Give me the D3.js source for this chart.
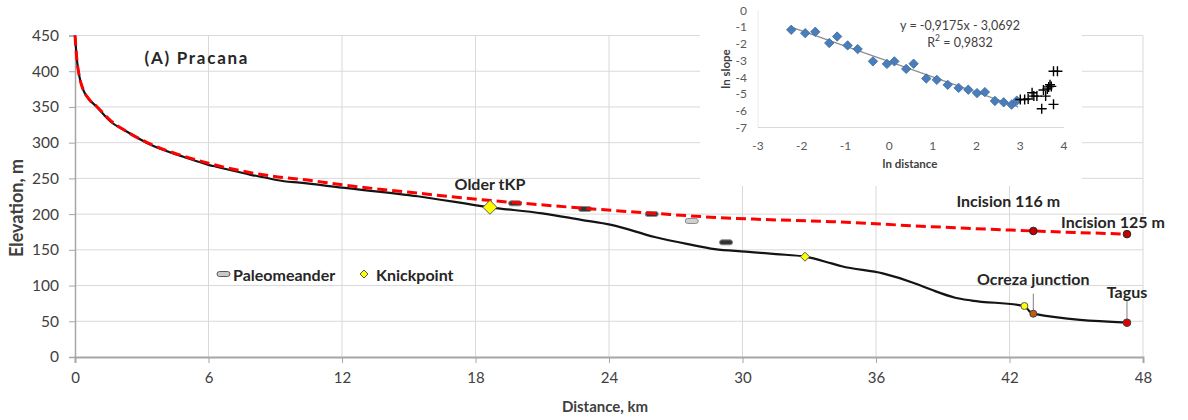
<!DOCTYPE html>
<html><head><meta charset="utf-8">
<script src="https://cdn.jsdelivr.net/npm/d3@7"></script>
<style>body{margin:0;background:#fff} svg{display:block}</style>
</head><body><svg id="c" width="1188" height="420"></svg>
<script>
// ---- main profile data ----
const profileKm   = [0,0.05,0.1,0.23,0.37,0.6,0.98,1.58,2.3,3.4,4.9,6.0,6.4,7.9,8.4,9.4,10.1,12.0,15.4,18.65,21.0,22.75,24.1,26.05,27.55,28.75,30.14,31.5,32.81,34.0,34.46,36.3,37.76,38.5,39.56,40.3,42.67,42.9,43.07,47.28];
const profileElev = [450,430,412,388,374,362,350,330,316,297,280,269,266,255,252,246,244,237,225,209.5,201,192,185,168,158,151,147.5,144,140.4,131,127,117,103,94,83,79,71.4,64,60.6,48];
const envelopeKm   = [0,0.05,0.1,0.23,0.37,0.6,1.0,1.6,2.3,3.4,4.9,6.4,7.9,9.4,10.1,12.0,15.5,18.7,20.0,22.75,26.05,29.0,30.5,34.0,38.5,43.07,47.28];
const envelopeElev = [450,428,412,388,374,362,350,331,316,298,281,268,258,251,249,241,229,219,215.5,208.5,201,195,193,189.4,182.4,176.4,172];
const paleoKm   = [19.78,22.92,25.92,27.72,29.26];
const paleoElev = [215.1,207.2,200.2,190.4,160.5];
const olderTKP  = [18.65,209.5];
const knickKm   = [32.81,42.67];
const knickElev = [140.4,71.4];
const ocreza    = [43.07,60.6];
const tagus     = [47.28,48];
const incisionKm   = [43.07,47.28];
const incisionElev = [176.4,172];
const incisionLabels = ["Incision 116 m","Incision 125 m"];
const xTicks = [0,6,12,18,24,30,36,42,48];
const yTicks = [0,50,100,150,200,250,300,350,400,450];
// ---- inset data ----
const lnDist  = [-2.24,-1.92,-1.69,-1.37,-1.19,-0.95,-0.72,-0.37,-0.05,0.12,0.39,0.56,0.85,1.09,1.34,1.59,1.81,2.01,2.19,2.42,2.62,2.80,2.92];
const lnSlope = [-1.18,-1.38,-1.30,-1.97,-1.58,-2.11,-2.33,-3.06,-3.21,-3.06,-3.51,-3.20,-4.08,-4.16,-4.46,-4.64,-4.75,-4.95,-4.89,-5.42,-5.50,-5.64,-5.40];
const lnDistOut  = [3.00,3.10,3.18,3.27,3.31,3.38,3.49,3.53,3.58,3.62,3.65,3.68,3.71,3.76,3.76,3.85];
const lnSlopeOut = [-5.33,-5.33,-5.30,-4.93,-5.13,-5.13,-5.88,-4.77,-5.13,-4.70,-4.58,-4.45,-4.55,-5.62,-3.65,-3.65];
const insetXTicks = [-3,-2,-1,0,1,2,3,4];
const insetYTicks = [0,-1,-2,-3,-4,-5,-6,-7];
const trendSlope = -0.9175, trendIntercept = -3.0692, trendR2 = "0,9832";
const trendRange = [-2.24,2.95];

const svg = d3.select("#c");
const F = "Lato, 'Open Sans', sans-serif";
const x = d3.scaleLinear().domain([0,48]).range([75,1143]);
const y = d3.scaleLinear().domain([0,450]).range([357,35.5]);

// grid
svg.append("g").selectAll("line").data(yTicks.filter(d=>d>0)).join("line")
  .attr("x1",x(0)).attr("x2",x(48)).attr("y1",d=>y(d)).attr("y2",d=>y(d))
  .attr("stroke","#d9d9d9").attr("stroke-width",1);
svg.append("g").selectAll("line").data(xTicks.filter(d=>d>0)).join("line")
  .attr("x1",d=>x(d)).attr("x2",d=>x(d)).attr("y1",y(0)).attr("y2",y(450))
  .attr("stroke","#d9d9d9").attr("stroke-width",1);

// axes
const gx = svg.append("g").attr("transform",`translate(0,${y(0)})`)
  .call(d3.axisBottom(x).tickValues(xTicks).tickSize(6).tickPadding(9));
gx.select(".domain").attr("stroke","#a6a6a6").attr("stroke-width",2);
gx.selectAll(".tick line").attr("stroke","#a6a6a6");
gx.selectAll("text").attr("font-family",F).attr("font-size",15).attr("fill","#404040");
const gy = svg.append("g").attr("transform",`translate(${x(0)},0)`)
  .call(d3.axisLeft(y).tickValues(yTicks).tickSize(6).tickPadding(10));
gy.select(".domain").attr("stroke","#a6a6a6").attr("stroke-width",1.5);
gy.selectAll(".tick line").attr("stroke","#a6a6a6");
gy.selectAll("text").attr("font-family",F).attr("font-size",15.5).attr("fill","#404040");

svg.append("text").attr("x",605).attr("y",412).attr("text-anchor","middle")
  .attr("font-family",F).attr("font-weight","bold").attr("font-size",15).attr("fill","#404040").text("Distance, km");
svg.append("text").attr("transform","translate(16,208) rotate(-90)").attr("text-anchor","middle")
  .attr("dominant-baseline","central")
  .attr("font-family",F).attr("font-weight","bold").attr("font-size",18).attr("fill","#404040").text("Elevation, m");

// paleomeanders (under lines)
const pm = svg.append("g");
pm.selectAll("rect").data(paleoKm.map((d,i)=>[d,paleoElev[i]])).join("rect")
  .attr("x",d=>x(d[0])-6.5).attr("y",d=>y(d[1])-2.5).attr("width",13).attr("height",5).attr("rx",2.5)
  .attr("fill",(d,i)=>i===3?"#d0d0d0":"#333").attr("stroke","#8c8c8c").attr("stroke-width",1);

// lines
const line = d3.line().curve(d3.curveMonotoneX);
svg.append("path").attr("d",line(profileKm.map((d,i)=>[x(d),y(profileElev[i])])))
  .attr("fill","none").attr("stroke","#141414").attr("stroke-width",2.2);
svg.append("path").attr("d",line(envelopeKm.map((d,i)=>[x(d),y(envelopeElev[i])])))
  .attr("fill","none").attr("stroke","#ff0000").attr("stroke-width",3).attr("stroke-dasharray","10,5");

// markers
function diamond(g,cx,cy,r,fill){
  g.append("path").attr("d",`M${cx},${cy-r}L${cx+r},${cy}L${cx},${cy+r}L${cx-r},${cy}Z`)
   .attr("fill",fill).attr("stroke","#595959").attr("stroke-width",1);
}
diamond(svg,x(olderTKP[0]),y(olderTKP[1]),7,"#ffff00");
diamond(svg,x(knickKm[0]),y(knickElev[0]),4.5,"#ffff00");
svg.append("circle").attr("cx",x(knickKm[1])).attr("cy",y(knickElev[1])).attr("r",3.5).attr("fill","#ffff00").attr("stroke","#595959");
// leader lines
svg.append("line").attr("x1",x(ocreza[0])).attr("x2",x(ocreza[0])).attr("y1",y(ocreza[1])-20).attr("y2",y(ocreza[1])-3).attr("stroke","#7f7f7f");
svg.append("line").attr("x1",x(tagus[0])).attr("x2",x(tagus[0])).attr("y1",y(tagus[1])-22).attr("y2",y(tagus[1])-3).attr("stroke","#7f7f7f");
svg.append("circle").attr("cx",x(ocreza[0])).attr("cy",y(ocreza[1])).attr("r",3.5).attr("fill","#c55a11").attr("stroke","#404040");
svg.append("circle").attr("cx",x(tagus[0])).attr("cy",y(tagus[1])).attr("r",3.8).attr("fill","#e00000").attr("stroke","#404040");
incisionKm.forEach((k,i)=>{
  svg.append("circle").attr("cx",x(k)).attr("cy",y(incisionElev[i])).attr("r",3.8).attr("fill","#c00000").attr("stroke","#262626");
});

// labels
const lab = (t,px,py,size)=>svg.append("text").attr("x",px).attr("y",py).attr("text-anchor","middle")
  .attr("dominant-baseline","central").attr("font-family",F).attr("font-weight","bold")
  .attr("font-size",size||16).attr("fill","#262626").text(t);
lab("(A) Pracana",196,57,17).attr("textLength",103).attr("lengthAdjust","spacing");
lab("Older tKP",x(olderTKP[0]),y(olderTKP[1])-24);
lab(incisionLabels[0],x(incisionKm[0])-25,y(incisionElev[0])-30);
lab(incisionLabels[1],x(incisionKm[1])-14,y(incisionElev[1])-13);
lab("Ocreza junction",x(ocreza[0]),y(ocreza[1])-35);
lab("Tagus",x(tagus[0]),y(tagus[1])-31);

// legend
const lg = svg.append("g");
lg.append("rect").attr("x",217).attr("y",271.5).attr("width",13).attr("height",5).attr("rx",2.5).attr("fill","#c8c8c8").attr("stroke","#595959");
lg.append("text").attr("x",233).attr("y",274).attr("dominant-baseline","central").attr("font-family",F).attr("font-weight","bold").attr("font-size",16).attr("fill","#262626").text("Paleomeander");
diamond(lg,364,274,4,"#ffff00");
lg.append("text").attr("x",376).attr("y",274).attr("dominant-baseline","central").attr("font-family",F).attr("font-weight","bold").attr("font-size",16).attr("fill","#262626").text("Knickpoint");

// ---- inset ----
const ins = svg.append("g");
ins.append("rect").attr("x",700).attr("y",0).attr("width",382).attr("height",186).attr("fill","#fff");
const ix = d3.scaleLinear().domain([-3,4]).range([758,1064]);
const iy = d3.scaleLinear().domain([-7,0]).range([127.5,10]);
ins.append("line").attr("x1",ix(-3)).attr("x2",ix(4)).attr("y1",iy(-7)).attr("y2",iy(-7)).attr("stroke","#d9d9d9");
ins.append("line").attr("x1",ix(-3)).attr("x2",ix(-3)).attr("y1",iy(-7)).attr("y2",iy(0)).attr("stroke","#ececec");
ins.selectAll(".xt").data(insetXTicks).join("text").attr("class","xt")
  .attr("x",d=>ix(d)).attr("y",145).attr("text-anchor","middle").attr("dominant-baseline","central")
  .attr("font-family",F).attr("font-size",12).attr("fill","#595959").text(d=>d);
ins.selectAll(".yt").data(insetYTicks).join("text").attr("class","yt")
  .attr("x",747).attr("y",d=>iy(d)).attr("text-anchor","end").attr("dominant-baseline","central")
  .attr("font-family",F).attr("font-size",12).attr("fill","#595959").text(d=>d);
ins.append("text").attr("x",910).attr("y",163).attr("text-anchor","middle").attr("dominant-baseline","central")
  .attr("font-family",F).attr("font-weight","bold").attr("font-size",11.5).attr("fill","#404040").text("ln distance");
ins.append("text").attr("transform","translate(725,69) rotate(-90)").attr("text-anchor","middle").attr("dominant-baseline","central")
  .attr("font-family",F).attr("font-weight","bold").attr("font-size",11.5).attr("fill","#404040").text("ln slope");
ins.append("line").attr("x1",ix(trendRange[0])).attr("y1",iy(trendSlope*trendRange[0]+trendIntercept))
  .attr("x2",ix(trendRange[1])).attr("y2",iy(trendSlope*trendRange[1]+trendIntercept))
  .attr("stroke","#8c8c8c").attr("stroke-width",1.3);
lnDist.forEach((d,i)=>{
  const cx=ix(d), cy=iy(lnSlope[i]), r=4.7;
  ins.append("path").attr("d",`M${cx},${cy-r}L${cx+r},${cy}L${cx},${cy+r}L${cx-r},${cy}Z`)
    .attr("fill","#4a7ebb").attr("stroke","#3b67a0").attr("stroke-width",0.8);
});
lnDistOut.forEach((d,i)=>{
  const cx=ix(d), cy=iy(lnSlopeOut[i]), r=5;
  ins.append("path").attr("d",`M${cx-r},${cy}H${cx+r}M${cx},${cy-r}V${cy+r}`)
    .attr("stroke","#000").attr("stroke-width",1.4);
});
ins.append("text").attr("x",960).attr("y",25).attr("text-anchor","middle").attr("dominant-baseline","central")
  .attr("font-family",F).attr("font-size",12.5).attr("fill","#404040")
  .text(`y = ${String(trendSlope).replace(".",",")}x - ${String(-trendIntercept).replace(".",",")}`);
const r2 = ins.append("text").attr("x",960).attr("y",42).attr("text-anchor","middle").attr("dominant-baseline","central")
  .attr("font-family",F).attr("font-size",12.5).attr("fill","#404040");
r2.append("tspan").text("R");
r2.append("tspan").attr("dy",-4).attr("font-size",8.5).text("2");
r2.append("tspan").attr("dy",4).text(" = " + trendR2);
</script></body></html>
